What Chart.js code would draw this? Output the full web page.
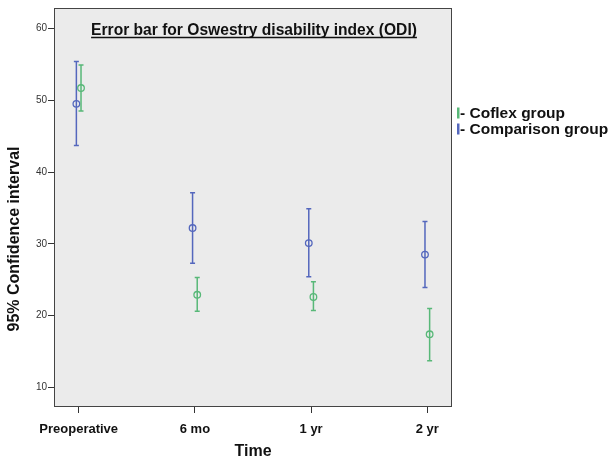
<!DOCTYPE html>
<html>
<head>
<meta charset="utf-8">
<script src="https://cdn.jsdelivr.net/npm/chart.js@4/dist/chart.umd.min.js"></script>
<style>
html,body{margin:0;padding:0;background:#fff;}
#wrap{width:612px;height:461px;position:relative;}
</style>
</head>
<body>
<div id="wrap"><canvas id="c" width="612" height="461"></canvas></div>
<script>
const categories = ['Preoperative', '6 mo', '1 yr', '2 yr'];
const yTicks = [10, 20, 30, 40, 50, 60];

const coflexMean  = [51.7, 22.9, 22.6, 17.4];
const coflexLower = [48.5, 20.6, 20.7, 13.7];
const coflexUpper = [54.9, 25.3, 24.7, 21.0];

const compMean  = [49.5, 32.2, 30.1, 28.5];
const compLower = [43.7, 27.3, 25.4, 23.9];
const compUpper = [55.4, 37.1, 34.9, 33.1];

const seriesNames = ['Coflex group', 'Comparison group'];
const chartTitle = 'Error bar for Oswestry disability index (ODI)';
const yTitle = '95% Confidence interval';
const xTitle = 'Time';
const COL_GREEN = '#58b878';
const COL_BLUE = '#5467bd';
const OFFSET = 0.02;
const FONT = '"Liberation Sans", Arial, sans-serif';

function pts(mean, lower, upper, off) {
  return mean.map((m, i) => ({ x: i + off, y: m, lo: lower[i], hi: upper[i] }));
}

const errorBars = {
  id: 'errorBars',
  beforeDraw(chart) {
    const a = chart.chartArea, ctx = chart.ctx;
    ctx.save();
    ctx.fillStyle = '#ebebeb';
    ctx.fillRect(a.left, a.top, a.right - a.left, a.bottom - a.top);
    ctx.restore();
  },
  afterDatasetsDraw(chart) {
    const ctx = chart.ctx, ys = chart.scales.y, xs = chart.scales.x;
    chart.data.datasets.forEach(ds => {
      ctx.save();
      ctx.strokeStyle = ds.borderColor;
      ctx.lineWidth = 1.5;
      ds.data.forEach(p => {
        const px = xs.getPixelForValue(p.x);
        const top = ys.getPixelForValue(p.hi);
        const bot = ys.getPixelForValue(p.lo);
        ctx.beginPath();
        ctx.moveTo(px, top); ctx.lineTo(px, bot);
        ctx.moveTo(px - 2.5, top); ctx.lineTo(px + 2.5, top);
        ctx.moveTo(px - 2.5, bot); ctx.lineTo(px + 2.5, bot);
        ctx.stroke();
      });
      ctx.restore();
    });
  },
  afterDraw(chart) {
    const a = chart.chartArea, ctx = chart.ctx;
    ctx.save();
    ctx.strokeStyle = '#444';
    ctx.lineWidth = 1;
    ctx.strokeRect(a.left + 0.5, a.top + 0.5, a.right - a.left - 1, a.bottom - a.top - 1);
    // Title inside plot
    ctx.font = 'bold 15.6px ' + FONT;
    ctx.fillStyle = '#111';
    ctx.textAlign = 'center';
    ctx.textBaseline = 'alphabetic';
    const cx = 254, ty = 35;
    ctx.fillText(chartTitle, cx, ty);
    const w = ctx.measureText(chartTitle).width;
    ctx.beginPath();
    ctx.moveTo(cx - w / 2, ty + 2.5); ctx.lineTo(cx + w / 2, ty + 2.5);
    ctx.lineWidth = 1.3; ctx.strokeStyle = '#111'; ctx.stroke();
    // Y axis title
    ctx.save();
    ctx.translate(15, 239);
    ctx.rotate(-Math.PI / 2);
    ctx.textAlign = 'center';
    ctx.textBaseline = 'middle';
    ctx.font = 'bold 16px ' + FONT;
    ctx.fillStyle = '#111';
    ctx.fillText(yTitle, 0, 0);
    ctx.restore();
    // Legend
    ctx.textAlign = 'left';
    ctx.textBaseline = 'middle';
    ctx.font = 'bold 15.5px ' + FONT;
    const lx = 457, ly = [113, 129];
    chart.data.datasets.forEach((ds, i) => {
      ctx.fillStyle = ds.borderColor;
      ctx.fillRect(lx, ly[i] - 5.5, 2.5, 11);
      ctx.fillStyle = '#111';
      ctx.fillText('- ' + seriesNames[i], lx + 3, ly[i] + 0.5);
    });
    ctx.restore();
  }
};

new Chart(document.getElementById('c'), {
  type: 'scatter',
  data: {
    datasets: [
      { label: seriesNames[0], data: pts(coflexMean, coflexLower, coflexUpper, OFFSET),
        borderColor: COL_GREEN, backgroundColor: 'rgba(0,0,0,0)', pointRadius: 3.3, pointBorderWidth: 1.3, pointHoverRadius: 3.3 },
      { label: seriesNames[1], data: pts(compMean, compLower, compUpper, -OFFSET),
        borderColor: COL_BLUE, backgroundColor: 'rgba(0,0,0,0)', pointRadius: 3.3, pointBorderWidth: 1.3, pointHoverRadius: 3.3 }
    ]
  },
  options: {
    responsive: false,
    animation: false,
    events: [],
    layout: { padding: { left: 0, right: 160, top: 8, bottom: 0 } },
    plugins: { legend: { display: false }, tooltip: { enabled: false }, title: { display: false } },
    scales: {
      x: {
        type: 'linear', min: -0.2125, max: 3.2125,
        afterBuildTicks(s) { s.ticks = categories.map((c, i) => ({ value: i })); },
        afterFit(s) { s.height = 54; },
        border: { display: false },
        grid: { drawOnChartArea: false, drawTicks: true, tickLength: 6, color: '#333', lineWidth: 1 },
        ticks: {
          callback: (v) => categories[v] !== undefined ? categories[v] : '',
          color: '#111', font: { family: FONT, size: 13, weight: 'bold' },
          padding: 9, maxRotation: 0, autoSkip: false
        },
        title: { display: true, text: xTitle, color: '#111',
          font: { family: FONT, size: 16, weight: 'bold' }, padding: { top: 5, bottom: 0 } }
      },
      y: {
        type: 'linear', min: 7.27, max: 62.85,
        afterBuildTicks(s) { s.ticks = yTicks.map(v => ({ value: v })); },
        afterFit(s) { s.width = 54; },
        border: { display: false },
        grid: { drawOnChartArea: false, drawTicks: true, tickLength: 6, color: '#333', lineWidth: 1 },
        ticks: { color: '#333', font: { family: FONT, size: 10 }, padding: 1 },
        title: { display: false }
      }
    }
  },
  plugins: [errorBars]
});
</script>
</body>
</html>
